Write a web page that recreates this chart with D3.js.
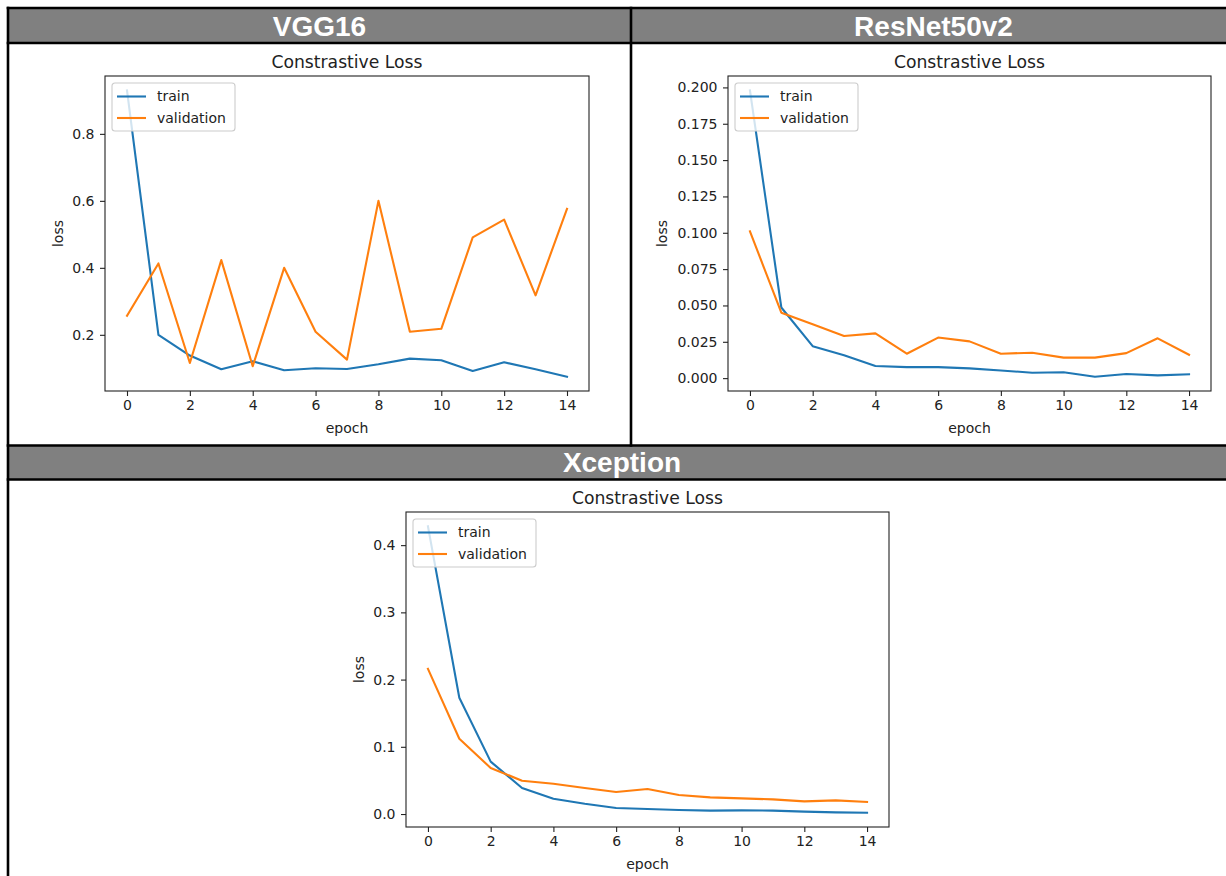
<!DOCTYPE html>
<html>
<head>
<meta charset="utf-8">
<script src="https://cdn.jsdelivr.net/npm/d3@7"></script>
<style>
body { margin: 0; background: #fff; }
svg { display: block; }
</style>
</head>
<body>
<div id="chartDiv"></div>
<script>
// values
var epochs = [0, 1, 2, 3, 4, 5, 6, 7, 8, 9, 10, 11, 12, 13, 14];
var xTicks = [0, 2, 4, 6, 8, 10, 12, 14];

var vggTrain = [0.93, 0.200, 0.138, 0.097, 0.121, 0.094, 0.100, 0.098, 0.112, 0.129, 0.124, 0.092, 0.118, 0.097, 0.075];
var vggVal = [0.257, 0.413, 0.116, 0.423, 0.106, 0.400, 0.209, 0.126, 0.600, 0.209, 0.218, 0.491, 0.544, 0.318, 0.576];
var vggYTicks = [0.2, 0.4, 0.6, 0.8];

var resTrain = [0.198, 0.0486, 0.0220, 0.0157, 0.0083, 0.0076, 0.0076, 0.0067, 0.0053, 0.0037, 0.0041, 0.0010, 0.0028, 0.0019, 0.0026];
var resVal = [0.101, 0.045, 0.037, 0.029, 0.0308, 0.0168, 0.0279, 0.0253, 0.0168, 0.0175, 0.0141, 0.0141, 0.0172, 0.0274, 0.0161];
var resYTicks = [0, 0.025, 0.05, 0.075, 0.1, 0.125, 0.15, 0.175, 0.2];

var xcTrain = [0.428, 0.173, 0.078, 0.0387, 0.0228, 0.0153, 0.0089, 0.0074, 0.0060, 0.0050, 0.0055, 0.0050, 0.0035, 0.0025, 0.0020];
var xcVal = [0.216, 0.112, 0.0685, 0.0496, 0.045, 0.0387, 0.0327, 0.0372, 0.0283, 0.0248, 0.0233, 0.0218, 0.0188, 0.0203, 0.0179];
var xcYTicks = [0, 0.1, 0.2, 0.3, 0.4];

var modelNames = ['VGG16', 'ResNet50v2', 'Xception'];
var seriesNames = ['train', 'validation'];
var colors = ['#1f77b4', '#ff7f0e'];

var W = 1226, H = 876;
var font = '"DejaVu Sans", sans-serif';

var svg = d3.select('#chartDiv').append('svg')
	.attr('width', W)
	.attr('height', H);

// table frame: grey header rows, black rules
var tLeft = 8, tRight = 1236, tMid = 631;
var gray = '#808080';
svg.append('rect').attr('x', tLeft).attr('y', 8).attr('width', tRight - tLeft).attr('height', 35).attr('fill', gray);
svg.append('rect').attr('x', tLeft).attr('y', 446).attr('width', tRight - tLeft).attr('height', 33).attr('fill', gray);

var rules = [
	[tLeft, 8, tRight, 8],
	[tLeft, 43, tRight, 43],
	[tLeft, 445.5, tRight, 445.5],
	[tLeft, 479.5, tRight, 479.5],
	[tLeft, 8, tLeft, H + 5],
	[tMid, 8, tMid, 445.5],
	[tRight, 8, tRight, H + 5]
];
svg.selectAll('line.rule').data(rules).enter()
	.append('line')
	.attr('class', 'rule')
	.attr('x1', function(d){return d[0]})
	.attr('y1', function(d){return d[1]})
	.attr('x2', function(d){return d[2]})
	.attr('y2', function(d){return d[3]})
	.attr('stroke', '#000')
	.attr('stroke-width', 2.6)
	.attr('stroke-linecap', 'square');

var headers = [
	{name: modelNames[0], x: (tLeft + tMid) / 2, y: 35.5},
	{name: modelNames[1], x: (tMid + tRight) / 2, y: 35.5},
	{name: modelNames[2], x: (tLeft + tRight) / 2, y: 472}
];
svg.selectAll('text.header').data(headers).enter()
	.append('text')
	.attr('class', 'header')
	.attr('x', function(d){return d.x})
	.attr('y', function(d){return d.y})
	.attr('text-anchor', 'middle')
	.attr('fill', '#fff')
	.style('font-family', '"Liberation Sans", Arial, sans-serif')
	.style('font-weight', 'bold')
	.style('font-size', '28px')
	.text(function(d){return d.name});

function makePlot(left, top, width, height, train, val, yTicks, yFmt, labelOffset){
	var g = svg.append('g').attr('transform', 'translate(' + left + ',' + top + ')');

	var x = d3.scaleLinear().domain([-0.7, 14.7]).range([0, width]);
	// matplotlib style 5% padding on the data range
	var ext = d3.extent(train.concat(val));
	var pad = 0.05 * (ext[1] - ext[0]);
	var y = d3.scaleLinear().domain([ext[0] - pad, ext[1] + pad]).range([height, 0]);

	var line = d3.line()
		.x(function(d, i){return x(epochs[i])})
		.y(function(d){return y(d)});

	[train, val].forEach(function(s, k){
		g.append('path')
			.datum(s)
			.attr('d', line)
			.attr('fill', 'none')
			.attr('stroke', colors[k])
			.attr('stroke-width', 2.1)
			.attr('stroke-linejoin', 'round')
			.attr('stroke-linecap', 'square');
	});

	var xAxis = g.append('g')
		.attr('transform', 'translate(0,' + height + ')')
		.call(d3.axisBottom(x).tickValues(xTicks).tickSize(5).tickPadding(4).tickFormat(d3.format('d')));
	var yAxis = g.append('g')
		.call(d3.axisLeft(y).tickValues(yTicks).tickSize(5).tickPadding(5.5).tickFormat(d3.format(yFmt)));

	[xAxis, yAxis].forEach(function(a){
		a.select('.domain').remove();
		a.selectAll('line').attr('stroke', '#222').attr('stroke-width', 1.1);
		a.selectAll('text')
			.attr('fill', '#222')
			.style('font-family', font)
			.style('font-size', '14px');
	});

	g.append('rect')
		.attr('width', width)
		.attr('height', height)
		.attr('fill', 'none')
		.attr('stroke', '#222')
		.attr('stroke-width', 1.1);

	g.append('text')
		.attr('x', width / 2)
		.attr('y', -8.5)
		.attr('text-anchor', 'middle')
		.attr('fill', '#222')
		.style('font-family', font)
		.style('font-size', '17.2px')
		.text('Constrastive Loss');

	g.append('text')
		.attr('x', width / 2)
		.attr('y', height + 42)
		.attr('text-anchor', 'middle')
		.attr('fill', '#222')
		.style('font-family', font)
		.style('font-size', '14px')
		.text('epoch');

	g.append('text')
		.attr('transform', 'translate(' + (-labelOffset) + ',' + (height / 2) + ') rotate(-90)')
		.attr('text-anchor', 'middle')
		.attr('fill', '#222')
		.style('font-family', font)
		.style('font-size', '14px')
		.text('loss');

	// legend, upper left
	var lg = g.append('g').attr('transform', 'translate(7,7)');
	lg.append('rect')
		.attr('width', 123)
		.attr('height', 48)
		.attr('rx', 3)
		.attr('fill', '#fff')
		.attr('fill-opacity', 0.8)
		.attr('stroke', '#ccc')
		.attr('stroke-width', 1.1);
	var items = lg.selectAll('g.item').data(seriesNames).enter()
		.append('g')
		.attr('class', 'item')
		.attr('transform', function(d, i){return 'translate(0,' + (13.5 + i * 21.5) + ')'});
	items.append('line')
		.attr('x1', 5)
		.attr('x2', 34)
		.attr('stroke', function(d, i){return colors[i]})
		.attr('stroke-width', 2.1);
	items.append('text')
		.attr('x', 45)
		.attr('y', 4.8)
		.attr('fill', '#222')
		.style('font-family', font)
		.style('font-size', '14px')
		.text(function(d){return d});
}

makePlot(105, 76, 484, 315, vggTrain, vggVal, vggYTicks, '.1f', 42);
makePlot(728, 76, 483, 315, resTrain, resVal, resYTicks, '.3f', 61);
makePlot(406, 512, 483, 315, xcTrain, xcVal, xcYTicks, '.1f', 42);
</script>
</body>
</html>
